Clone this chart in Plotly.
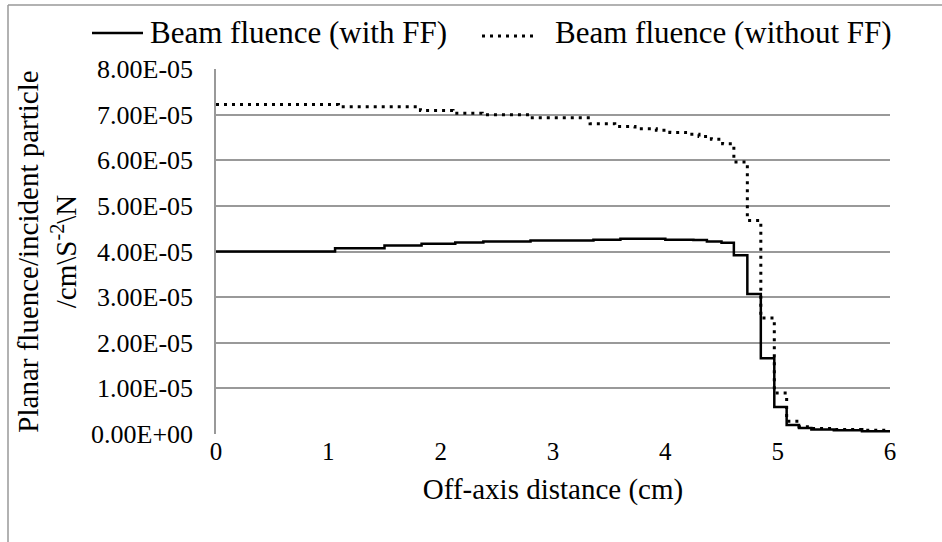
import plotly.graph_objects as go

# Bin edges (cm) and values (x1e-5)
edges_ff = [0, 1.06, 1.5, 1.83, 2.13, 2.38, 2.8, 3.36, 3.6, 4.0, 4.25, 4.37, 4.5,
            4.61, 4.73, 4.85, 4.97, 5.08, 5.19, 5.3, 5.5, 5.75, 6.0]
vals_ff = [4.00, 4.07, 4.13, 4.17, 4.20, 4.22, 4.24, 4.26, 4.28, 4.26, 4.25, 4.22,
           4.19, 3.92, 3.07, 1.66, 0.59, 0.20, 0.13, 0.10, 0.08, 0.06]

edges_noff = [0, 1.09, 1.82, 2.11, 2.37, 2.8, 3.33, 3.55, 3.73, 3.92, 4.04, 4.18,
              4.3, 4.41, 4.51, 4.61, 4.73, 4.85, 4.97, 5.08, 5.19, 5.3, 5.5, 5.75, 6.0]
vals_noff = [7.22, 7.17, 7.09, 7.03, 7.00, 6.93, 6.80, 6.74, 6.69, 6.66, 6.61, 6.57,
             6.52, 6.46, 6.36, 5.96, 4.68, 2.54, 0.90, 0.28, 0.16, 0.12, 0.10, 0.08]

series_names = ["Beam fluence (with FF)", "Beam fluence (without FF)"]

scale = 1e-5
y_ticks = [0, 1e-5, 2e-5, 3e-5, 4e-5, 5e-5, 6e-5, 7e-5, 8e-5]
y_ticktext = [f"{v:.2E}" for v in y_ticks]
x_ticks = [0, 1, 2, 3, 4, 5, 6]

FONT = "Liberation Serif"
W, H = 942, 542
L, R, T, B = 216, 52, 69, 108
PW, PH = W - L - R, H - T - B


def px(x):
    return (x - L) / PW


def py(y):
    return 1 + (T - y) / PH


def step_xy(edges, vals):
    ys = [v * scale for v in vals] + [vals[-1] * scale]
    return edges, ys


SOLID = dict(color="black", width=2.5)
DOTTED = dict(color="black", width=3, dash="3px,5px")

fig = go.Figure()
x1, y1 = step_xy(edges_ff, vals_ff)
fig.add_trace(go.Scatter(x=x1, y=y1, mode="lines", line_shape="hv",
                         name=series_names[0], line=SOLID, showlegend=False))
x2, y2 = step_xy(edges_noff, vals_noff)
fig.add_trace(go.Scatter(x=x2, y=y2, mode="lines", line_shape="hv",
                         name=series_names[1], line=DOTTED, showlegend=False))

fig.update_layout(
    width=W, height=H,
    margin=dict(l=L, r=R, t=T, b=B, autoexpand=False),
    paper_bgcolor="white", plot_bgcolor="white",
    font=dict(family=FONT, color="black", size=26),
    showlegend=False,
)
fig.update_xaxes(range=[0, 6], tickvals=x_ticks, showgrid=False, zeroline=False,
                 showline=False, ticks="", tickfont=dict(size=25, family=FONT),
                 title=dict(text="Off-axis distance (cm)", font=dict(size=29, family=FONT),
                            standoff=14))
fig.update_yaxes(range=[0, 8e-5], tickvals=y_ticks, ticktext=y_ticktext,
                 showgrid=True, gridcolor="#999999", gridwidth=1.5, zeroline=False,
                 showline=True, linecolor="#999999", linewidth=1.5, ticks="",
                 ticklabelstandoff=16,
                 tickfont=dict(size=26, family=FONT),
                 title=dict(text="Planar fluence/incident particle<br>/cm\\S<sup>-2</sup>\\N",
                            font=dict(size=29, family=FONT), standoff=6))

# manual legend (top)
LEG_Y = 33
fig.add_shape(type="line", xref="paper", yref="paper",
              x0=px(92), x1=px(143), y0=py(LEG_Y), y1=py(LEG_Y), line=SOLID)
fig.add_annotation(text=series_names[0], xref="paper", yref="paper",
                   x=px(148), y=py(LEG_Y), xanchor="left", yanchor="middle",
                   showarrow=False, font=dict(size=31, family=FONT, color="black"))
fig.add_shape(type="line", xref="paper", yref="paper",
              x0=px(482), x1=px(535), y0=py(LEG_Y + 3), y1=py(LEG_Y + 3), line=DOTTED)
fig.add_annotation(text=series_names[1], xref="paper", yref="paper",
                   x=px(553), y=py(LEG_Y), xanchor="left", yanchor="middle",
                   showarrow=False, font=dict(size=31, family=FONT, color="black"))

# outer chart frame (top and left edges visible)
fig.add_shape(type="line", xref="paper", yref="paper",
              x0=px(8), x1=px(942), y0=py(5), y1=py(5),
              line=dict(color="#999999", width=1.5))
fig.add_shape(type="line", xref="paper", yref="paper",
              x0=px(8), x1=px(8), y0=py(5), y1=py(542),
              line=dict(color="#999999", width=1.5))

fig.write_html("out.html")
